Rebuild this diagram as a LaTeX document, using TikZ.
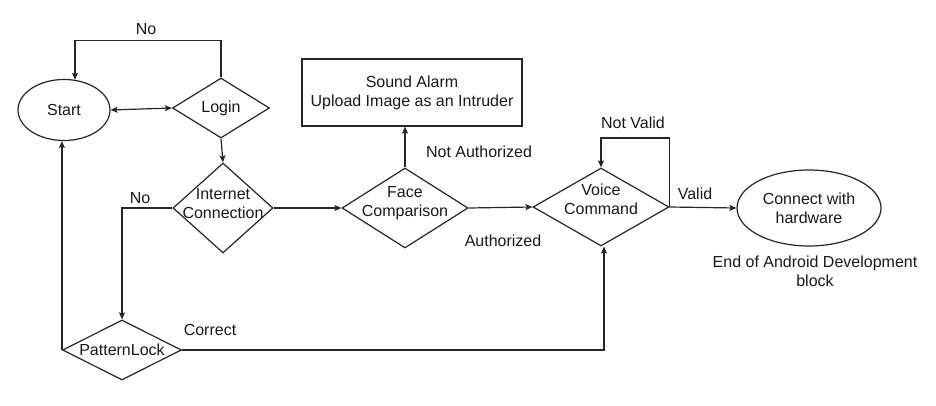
\documentclass[tikz,border=0pt]{standalone}
\usepackage{fontspec}
\setmainfont{Liberation Sans}
\usetikzlibrary{shapes.geometric,arrows.meta}
\begin{document}
\begin{tikzpicture}[x=1pt,y=-1pt,
  every node/.style={font=\fontsize{16}{19}\selectfont, text=black!90},
  line/.style={draw=black!85, line width=1.2pt},
  arr/.style={line, -{Stealth[length=7pt,width=6pt,inset=1.5pt]}},
  dia/.style={draw=black!85, line width=1.2pt, shape=diamond, inner sep=0pt},
  ell/.style={draw=black!85, line width=1.2pt, shape=ellipse, inner sep=0pt},
  lbl/.style={align=center, inner sep=0pt}]
\useasboundingbox (0,0) rectangle (936,406);

\node[ell, minimum width=92pt, minimum height=61pt] (start) at (64,110) {Start};
\node[dia, minimum width=97pt, minimum height=60pt] (login) at (221,108) {Login};
\node[dia, minimum width=100pt, minimum height=90pt,
  label={[lbl, yshift=4pt]center:Internet\\Connection}] (inet) at (223,208) {};
\node[dia, minimum width=119pt, minimum height=60pt,
  label={[lbl]center:PatternLock}] (pat) at (122,350) {};
\node[dia, minimum width=126pt, minimum height=80pt,
  label={[lbl, yshift=5pt]center:Face\\Comparison}] (face) at (405,208) {};
\node[draw=black!85, line width=1.2pt, minimum width=220pt, minimum height=67pt, align=center, inner sep=0pt]
  (alarm) at (412,92.5) {Sound Alarm\\Upload Image as an Intruder};
\node[dia, minimum width=136pt, minimum height=78pt,
  label={[lbl, yshift=8pt]center:Voice\\Command}] (voice) at (601,207) {};
\node[ell, minimum width=144pt, minimum height=76pt, align=center] (hw) at (809,208) {Connect with\\hardware};

\node[lbl] (lno1) at (146,29) {No};
\node[lbl] (lno2) at (140,198) {No};
\node[lbl] (lcor) at (210,330) {Correct};
\node[lbl] (lna) at (479,152) {Not Authorized};
\node[lbl] (lau) at (503,241) {Authorized};
\node[lbl] (lnv) at (633,123) {Not Valid};
\node[lbl] (lv) at (695,194) {Valid};
\node[lbl] (lend) at (815,271) {End of Android Development\\block};

\draw[line, {Stealth[length=7pt,width=6pt,inset=1.5pt]}-{Stealth[length=7pt,width=6pt,inset=1.5pt]}] (start.east) -- (login.west);
\draw[arr] (login.north) -- ++(0,-37) -| (start.70);
\draw[arr] (login.south) -- (inet.north);
\draw[arr] (inet.west) -| (pat.north);
\draw[arr] (pat.west) -- (pat.west |- start.south);
\draw[arr] (pat.east) -| ([xshift=3pt]voice.south);
\draw[arr] (inet.east) -- (face.west);
\draw[arr] (face.north) -- (alarm.south -| face.north);
\draw[arr] (face.east) -- (voice.west);
\draw[arr] (voice.east) -- ++(0,-69) -| (voice.north);
\draw[arr] (voice.east) -- (hw.west);
\end{tikzpicture}
\end{document}
